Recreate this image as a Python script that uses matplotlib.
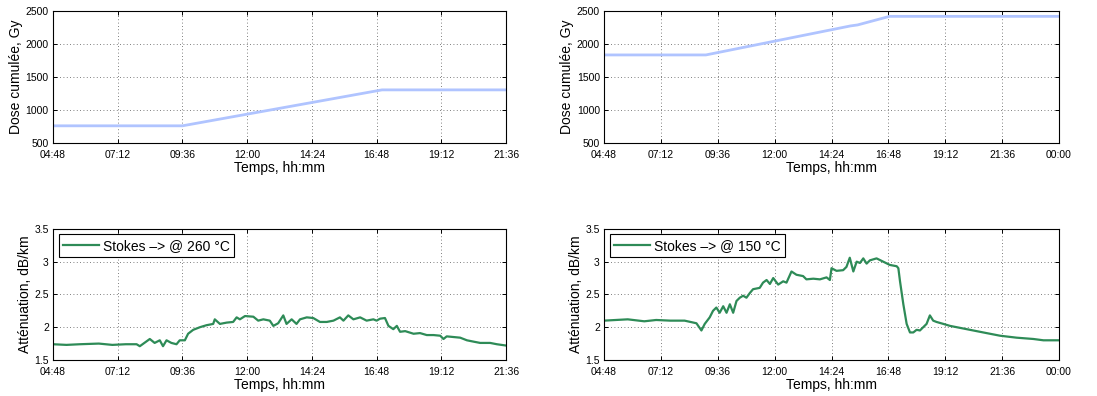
import numpy as np
import matplotlib.pyplot as plt

plt.rcParams['font.family'] = ['Liberation Sans', 'DejaVu Sans']

# time in hours
tick_left = [4.8, 7.2, 9.6, 12.0, 14.4, 16.8, 19.2, 21.6]
tick_left_lab = ['04:48', '07:12', '09:36', '12:00', '14:24', '16:48', '19:12', '21:36']
tick_right = [4.8, 7.2, 9.6, 12.0, 14.4, 16.8, 19.2, 21.6, 24.0]
tick_right_lab = ['04:48', '07:12', '09:36', '12:00', '14:24', '16:48', '19:12', '21:36', '00:00']

# cumulated dose
dose1_t = [4.8, 9.6, 17.0, 21.6]
dose1_v = [760, 760, 1305, 1305]
dose2_t = [4.8, 9.1, 15.2, 15.5, 16.85, 24.0]
dose2_v = [1835, 1835, 2275, 2290, 2420, 2420]

# attenuation, 260 C
att1_t = [4.8, 5.3, 5.8, 6.5, 7.0, 7.5, 7.9, 8.02, 8.39, 8.57, 8.76, 8.88, 9.01, 9.19,
          9.38, 9.50, 9.69, 9.81, 10.0, 10.25, 10.49, 10.74, 10.80, 10.99, 11.24, 11.48,
          11.61, 11.73, 11.92, 12.23, 12.41, 12.60, 12.84, 12.97, 13.15, 13.34, 13.46,
          13.65, 13.83, 13.96, 14.21, 14.45, 14.70, 14.95, 15.20, 15.44, 15.57, 15.75,
          15.94, 16.19, 16.43, 16.68, 16.80, 16.93, 17.11, 17.24, 17.42, 17.55, 17.67,
          17.86, 18.17, 18.41, 18.66, 18.91, 19.16, 19.28, 19.40, 19.65, 19.90, 20.15,
          20.39, 20.64, 21.01, 21.26, 21.6]
att1_v = [1.74, 1.73, 1.74, 1.75, 1.73, 1.74, 1.74, 1.71, 1.82, 1.76, 1.80, 1.71, 1.80, 1.76,
          1.74, 1.80, 1.80, 1.90, 1.96, 2.00, 2.03, 2.05, 2.12, 2.05, 2.07, 2.08,
          2.15, 2.12, 2.17, 2.16, 2.10, 2.12, 2.10, 2.02, 2.06, 2.18, 2.05,
          2.12, 2.05, 2.12, 2.15, 2.14, 2.08, 2.08, 2.10, 2.15, 2.10, 2.18,
          2.12, 2.15, 2.10, 2.12, 2.10, 2.13, 2.14, 2.02, 1.97, 2.02, 1.93,
          1.94, 1.90, 1.91, 1.88, 1.88, 1.87, 1.82, 1.86, 1.85, 1.84, 1.80,
          1.78, 1.76, 1.76, 1.74, 1.72]

# attenuation, 150 C
att2_t = [4.8, 5.3, 5.8, 6.5, 7.0, 7.6, 8.2, 8.70, 8.91, 9.05, 9.26, 9.40, 9.54, 9.68,
          9.83, 9.97, 10.11, 10.25, 10.39, 10.53, 10.67, 10.81, 10.95, 11.09, 11.37,
          11.51, 11.66, 11.80, 11.94, 12.15, 12.36, 12.50, 12.71, 12.92, 13.20, 13.34,
          13.63, 13.91, 14.19, 14.33, 14.40, 14.61, 14.89, 15.03, 15.17, 15.32, 15.46,
          15.60, 15.74, 15.88, 16.02, 16.30, 16.58, 16.86, 17.15, 17.22, 17.29, 17.43,
          17.57, 17.71, 17.85, 17.99, 18.13, 18.27, 18.41, 18.55, 18.69, 18.83, 19.12,
          19.40, 20.10, 20.80, 21.51, 22.21, 22.92, 23.34, 24.0]
att2_v = [2.10, 2.11, 2.12, 2.09, 2.11, 2.10, 2.10, 2.06, 1.95, 2.05, 2.15, 2.25, 2.30, 2.22,
          2.32, 2.22, 2.35, 2.22, 2.40, 2.45, 2.48, 2.45, 2.52, 2.58, 2.60,
          2.68, 2.72, 2.66, 2.75, 2.65, 2.70, 2.68, 2.85, 2.80, 2.78, 2.73,
          2.74, 2.73, 2.76, 2.72, 2.90, 2.86, 2.87, 2.92, 3.06, 2.85, 3.00,
          2.98, 3.05, 2.97, 3.02, 3.05, 3.00, 2.95, 2.93, 2.90, 2.70, 2.35,
          2.05, 1.92, 1.92, 1.96, 1.95, 2.00, 2.05, 2.18, 2.10, 2.08, 2.05,
          2.02, 1.97, 1.92, 1.87, 1.84, 1.82, 1.80, 1.80]

blue = '#b0c4ff'
green = '#2e8b57'

fig = plt.figure(figsize=(10.97, 3.96), dpi=100)
ax_tl = fig.add_axes([0.0483, 0.639, 0.413, 0.333])
ax_tr = fig.add_axes([0.5506, 0.639, 0.4148, 0.333])
ax_bl = fig.add_axes([0.0483, 0.091, 0.413, 0.331])
ax_br = fig.add_axes([0.5506, 0.091, 0.4148, 0.331])


def style(ax, ticks, labels, ylim, yticks, ylabel):
    ax.set_xlim(ticks[0], ticks[-1])
    ax.set_xticks(ticks)
    ax.set_xticklabels(labels)
    ax.set_ylim(*ylim)
    ax.set_yticks(yticks)
    ax.set_yticklabels([('%g' % v) for v in yticks])
    ax.grid(True, linestyle=(0, (1, 3)), color='#555555', linewidth=0.6)
    ax.tick_params(direction='in', top=True, right=True, labelsize=7.5, length=3,
                   width=0.7)
    ax.tick_params(axis='x', pad=5)
    ax.tick_params(axis='y', pad=3)
    for s in ax.spines.values():
        s.set_linewidth(0.8)
    ax.set_xlabel('Temps, hh:mm', fontsize=10, labelpad=1)
    ax.set_ylabel(ylabel, fontsize=10, labelpad=2)


ax_tl.plot(dose1_t, dose1_v, color=blue, lw=2)
ax_tr.plot(dose2_t, dose2_v, color=blue, lw=2)
for ax, tk, lb in [(ax_tl, tick_left, tick_left_lab), (ax_tr, tick_right, tick_right_lab)]:
    style(ax, tk, lb, (500, 2500), [500, 1000, 1500, 2000, 2500], 'Dose cumulée, Gy')

ax_bl.plot(att1_t, att1_v, color=green, lw=1.6, label='Stokes –> @ 260 °C')
ax_br.plot(att2_t, att2_v, color=green, lw=1.6, label='Stokes –> @ 150 °C')
for ax, tk, lb in [(ax_bl, tick_left, tick_left_lab), (ax_br, tick_right, tick_right_lab)]:
    style(ax, tk, lb, (1.5, 3.5), [1.5, 2, 2.5, 3, 3.5], 'Atténuation, dB/km')
    leg = ax.legend(loc='upper left', fontsize=10, fancybox=False, framealpha=1,
                    edgecolor='black', borderpad=0.3, handlelength=2.6,
                    borderaxespad=0.4, handletextpad=0.3)
    leg.get_frame().set_linewidth(0.8)

fig.savefig('out.png', dpi=100)
